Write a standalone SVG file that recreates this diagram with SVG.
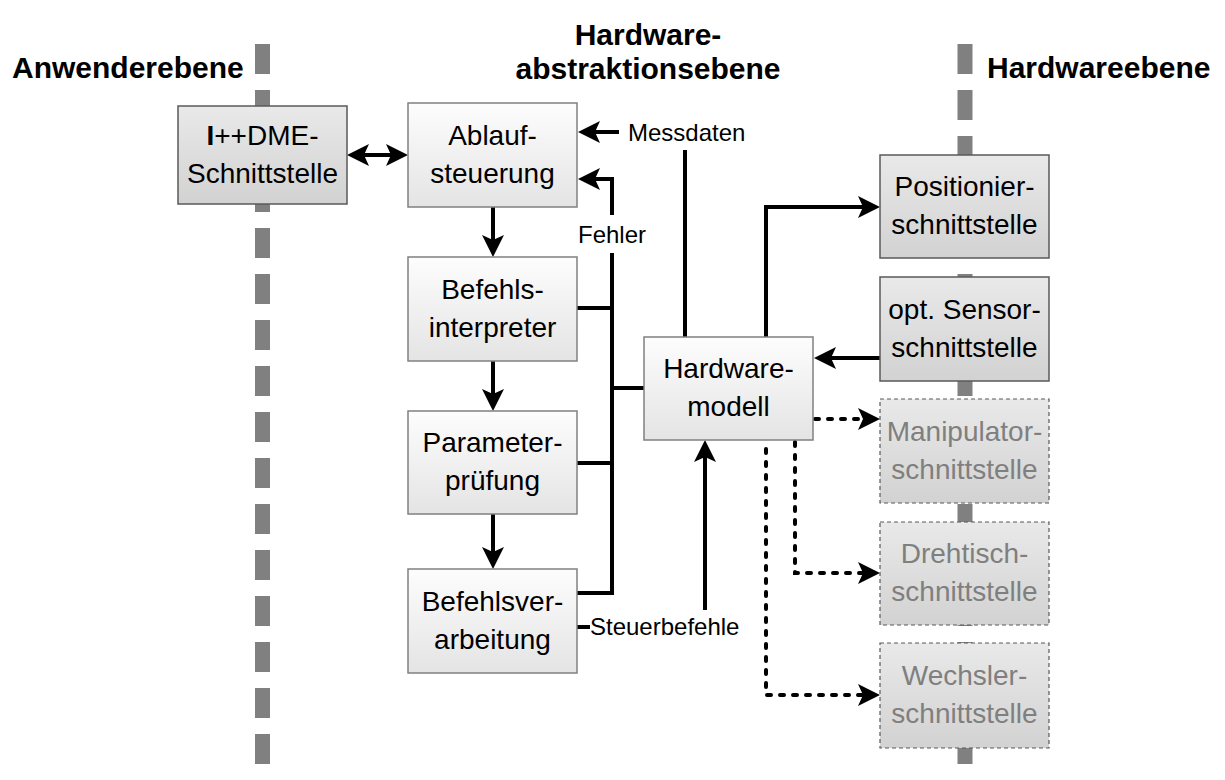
<svg xmlns="http://www.w3.org/2000/svg" width="1225" height="780" viewBox="0 0 1225 780">
  <defs>
    <linearGradient id="gWhite" x1="0" y1="0" x2="0" y2="1">
      <stop offset="0" stop-color="#fdfdfd"/>
      <stop offset="1" stop-color="#e4e4e4"/>
    </linearGradient>
    <linearGradient id="gGray" x1="0" y1="0" x2="0" y2="1">
      <stop offset="0" stop-color="#e9e9e9"/>
      <stop offset="1" stop-color="#d2d2d2"/>
    </linearGradient>
    <!-- filled arrowhead with a slight notch; reference point sits at the notch -->
    <marker id="arr" markerUnits="userSpaceOnUse" markerWidth="22" markerHeight="22" viewBox="0 0 22 22" refX="5" refY="11" orient="auto-start-reverse">
      <path d="M0,0 L22,11 L0,22 L5,11 Z" fill="#000"/>
    </marker>
  </defs>
  <style>
    .layer { stroke: #808080; stroke-width: 15; stroke-dasharray: 30 16; fill: none; }
    .head { font-family: "Liberation Sans", Arial, sans-serif; font-weight: bold; font-size: 30px; fill: #000; }
    .box-w { fill: url(#gWhite); stroke: #808080; stroke-width: 1.5; }
    .box-g { fill: url(#gGray); stroke: #595959; stroke-width: 1.5; }
    .box-d { fill: url(#gGray); stroke: #595959; stroke-width: 1.2; stroke-dasharray: 4 3; }
    .t { font-family: "Liberation Sans", Arial, sans-serif; font-size: 28px; fill: #000; text-anchor: middle; }
    .t-d { font-family: "Liberation Sans", Arial, sans-serif; font-size: 28px; fill: #7f7f7f; text-anchor: middle; }
    .lbl { font-family: "Liberation Sans", Arial, sans-serif; font-size: 24px; fill: #000; }
    .c { stroke: #000; stroke-width: 4; fill: none; }
    .cd { stroke: #000; stroke-width: 4; fill: none; stroke-dasharray: 4 9; stroke-linecap: round; }
  </style>

  <!-- layer boundaries -->
  <g id="layers">
    <line class="layer" x1="262.5" y1="44" x2="262.5" y2="780"/>
    <line class="layer" x1="965" y1="44" x2="965" y2="780"/>
  </g>

  <!-- layer headings -->
  <g id="headings">
    <text class="head" x="12" y="78">Anwenderebene</text>
    <text class="head" x="648" y="45" text-anchor="middle">Hardware-</text>
    <text class="head" x="648" y="79" text-anchor="middle">abstraktionsebene</text>
    <text class="head" x="987" y="78">Hardwareebene</text>
  </g>

  <!-- connectors -->
  <g id="connectors">
    <!-- I++DME <-> Ablaufsteuerung -->
    <line class="c" x1="364" y1="155" x2="391" y2="155" marker-start="url(#arr)" marker-end="url(#arr)"/>
    <!-- processing chain -->
    <line class="c" x1="493" y1="207" x2="493" y2="240" marker-end="url(#arr)"/>
    <line class="c" x1="493" y1="361" x2="493" y2="394" marker-end="url(#arr)"/>
    <line class="c" x1="493" y1="514" x2="493" y2="552" marker-end="url(#arr)"/>
    <!-- Messdaten -->
    <line class="c" x1="619" y1="132" x2="595" y2="132" marker-end="url(#arr)"/>
    <line class="c" x1="685" y1="150" x2="685" y2="337"/>
    <!-- Fehler bus -->
    <path class="c" d="M612,215 V179 H595" marker-end="url(#arr)"/>
    <path class="c" d="M612,253 V593 H577"/>
    <line class="c" x1="577" y1="308" x2="612" y2="308"/>
    <line class="c" x1="577" y1="463" x2="612" y2="463"/>
    <line class="c" x1="612" y1="388" x2="644" y2="388"/>
    <!-- Steuerbefehle -->
    <line class="c" x1="577" y1="627" x2="590" y2="627"/>
    <line class="c" x1="705" y1="610" x2="705" y2="457" marker-end="url(#arr)"/>
    <!-- hardware interfaces -->
    <path class="c" d="M766,337 V207 H863" marker-end="url(#arr)"/>
    <line class="c" x1="880" y1="358" x2="831" y2="358" marker-end="url(#arr)"/>
    <line class="cd" x1="815" y1="419" x2="863" y2="419" marker-end="url(#arr)"/>
    <path class="cd" d="M795,442 V573 H863" marker-end="url(#arr)"/>
    <path class="cd" d="M766,449 V695 H863" marker-end="url(#arr)"/>
  </g>

  <!-- connector labels -->
  <g id="labels">
    <text class="lbl" x="628" y="141">Messdaten</text>
    <text class="lbl" x="612" y="243" text-anchor="middle">Fehler</text>
    <text class="lbl" x="590" y="635">Steuerbefehle</text>
  </g>

  <!-- nodes -->
  <g id="node-idme">
    <rect class="box-g" x="178" y="106" width="169" height="98"/>
    <text class="t" x="262.5" y="145"><tspan font-weight="bold">I</tspan>++DME-</text>
    <text class="t" x="262.5" y="183">Schnittstelle</text>
  </g>
  <g id="node-ablauf">
    <rect class="box-w" x="408" y="103" width="169" height="104"/>
    <text class="t" x="492.5" y="145">Ablauf-</text>
    <text class="t" x="492.5" y="183">steuerung</text>
  </g>
  <g id="node-interpreter">
    <rect class="box-w" x="408" y="257" width="169" height="104"/>
    <text class="t" x="492.5" y="299">Befehls-</text>
    <text class="t" x="492.5" y="337">interpreter</text>
  </g>
  <g id="node-pruefung">
    <rect class="box-w" x="408" y="411" width="169" height="103"/>
    <text class="t" x="492.5" y="452">Parameter-</text>
    <text class="t" x="492.5" y="490">prüfung</text>
  </g>
  <g id="node-verarbeitung">
    <rect class="box-w" x="408" y="569" width="169" height="104"/>
    <text class="t" x="492.5" y="611">Befehlsver-</text>
    <text class="t" x="492.5" y="649">arbeitung</text>
  </g>
  <g id="node-hwmodell">
    <rect class="box-w" x="644" y="337" width="169" height="103"/>
    <text class="t" x="728.5" y="378">Hardware-</text>
    <text class="t" x="728.5" y="416">modell</text>
  </g>
  <g id="node-positionier">
    <rect class="box-g" x="880" y="155" width="169" height="103"/>
    <text class="t" x="964.5" y="196">Positionier-</text>
    <text class="t" x="964.5" y="234">schnittstelle</text>
  </g>
  <g id="node-sensor">
    <rect class="box-g" x="880" y="277" width="169" height="104"/>
    <text class="t" x="964.5" y="319">opt. Sensor-</text>
    <text class="t" x="964.5" y="357">schnittstelle</text>
  </g>
  <g id="node-manipulator">
    <rect class="box-d" x="880" y="399" width="169" height="104"/>
    <text class="t-d" x="964.5" y="441">Manipulator-</text>
    <text class="t-d" x="964.5" y="479">schnittstelle</text>
  </g>
  <g id="node-drehtisch">
    <rect class="box-d" x="880" y="522" width="169" height="103"/>
    <text class="t-d" x="964.5" y="563">Drehtisch-</text>
    <text class="t-d" x="964.5" y="601">schnittstelle</text>
  </g>
  <g id="node-wechsler">
    <rect class="box-d" x="880" y="643" width="169" height="105"/>
    <text class="t-d" x="964.5" y="685">Wechsler-</text>
    <text class="t-d" x="964.5" y="723">schnittstelle</text>
  </g>
</svg>
